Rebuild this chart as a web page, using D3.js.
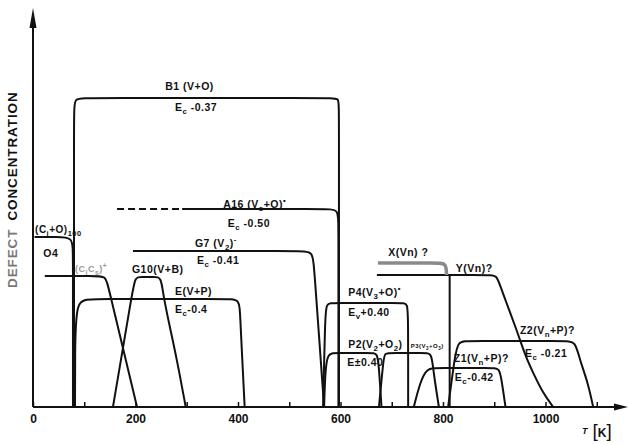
<!DOCTYPE html>
<html>
<head>
<meta charset="utf-8">
<title>Defect concentration</title>
<script src="https://cdn.jsdelivr.net/npm/d3@7"></script>
<style>
body { margin:0; background:#fff; }
svg text { font-family:"Liberation Sans", Arial, sans-serif; font-weight:bold; fill:#111; }
.curve { fill:none; stroke:#111; stroke-width:2; stroke-linejoin:round; }
</style>
</head>
<body>
<script>
// annealing curves, [T (K), relative concentration]
var b1 = [[80,0],[80,74],[80,77.25],[105,77.25],[581,77.25],[597,77.25],[597,75],[597,0]];
var a16Dash = [[164,49.5],[291,49.5]];
var a16 = [[291,49.5],[575,49.5],[596,49.5],[596,45],[596,0]];
var g7 = [[195,39],[525,39],[546,39],[549,34],[568,0]];
var o4 = [[3,42.5],[47,42.5],[78,42.5],[78,38.5],[78,0]];
var cics = [[23,32.75],[122,32.75],[142,32.75],[147,30],[203,0]];
var g10 = [[156,0],[193,28],[199,32.5],[210,32.5],[238,32.5],[250,32.5],[254,28],[267,20],[281,11.75],[298,0]];
var eVP = [[82,0],[82,14],[84,27],[110,27],[380,27],[403,27],[404,23],[413,0]];
var p4 = [[566,0],[570,22],[572,26],[585,26],[720,26],[731,26],[732,22],[732,0]];
var p2 = [[568,0],[570,8],[574,13.5],[590,13.5],[660,13.5],[672,13.5],[675,10],[680,0]];
var p3 = [[675,0],[684,12],[686,13.5],[700,13.5],[765,13.5],[778,13.5],[781,9],[792,0]];
var z1 = [[743,0],[755,6],[768,9.75],[790,9.75],[895,9.75],[910,9.75],[914,7],[922,0]];
var z2 = [[810,0],[823,12.5],[829,16.5],[850,16.5],[1040,16.5],[1058,16.5],[1067,11.75],[1083,6],[1093,0]];
var yVn = [[671,33],[890,33],[905,33],[912,30],[944,19.25],[960,13],[976,8.5],[995,3.5],[1015,0]];
var xTop = [[673,36],[790,36],[806,36],[807,33]];
var xDrop = [[813,33],[813,0]];

var tickVals = [0,100,200,300,400,500,600,700,800,900,1000,1100];
var tickLabels = [0,200,400,600,800,1000];

// labels: text (_{..} subscript, ^{..} superscript), T, level, size, colour
var labels = [
  ["B1 (V+O)", 258, 79.25, 10.5],
  ["E_{c} -0.37", 277, 74, 10.5],
  ["A16 (V_{s}+O)^{•}", 371, 49.75, 10.5],
  ["E_{c} -0.50", 380, 45, 10.5],
  ["G7 (V_{2})^{-}", 316, 40, 10.5],
  ["E_{c} -0.41", 320, 35.75, 10.5],
  ["G10(V+B)", 193, 33.5, 10.5],
  ["E(V+P)", 277, 28, 10.5],
  ["E_{c}-0.4", 277, 23.5, 10.5],
  ["O4", 20, 37.5, 10.5],
  ["(C_{i}+O)_{100}", 4, 43.5, 10],
  ["(C_{i}C_{s})^{+}", 82, 33.75, 9, "#999"],
  ["X(Vn) ?", 693, 37.75, 10.5],
  ["Y(Vn)?", 825, 33.75, 10.5],
  ["P4(V_{3}+O)^{•}", 615, 27.75, 10.5],
  ["E_{v}+0.40", 615, 22.75, 10.5],
  ["P2(V_{2}+O_{2})", 615, 14.75, 10.5],
  ["E±0.40", 613, 10.25, 10.5],
  ["P3(V_{3}+O_{3})", 737, 14.75, 6],
  ["Z1(V_{n}+P)?", 821, 11.25, 10.5],
  ["E_{c}-0.42", 823, 6.5, 10.5],
  ["Z2(V_{n}+P)?", 950, 18.25, 10.5],
  ["E_{c} -0.21", 960, 12.5, 10.5]
];

var W = 628, H = 444;
var svg = d3.select("body").append("svg").attr("width", W).attr("height", H);

var x = d3.scaleLinear().domain([0, 1160]).range([33, 627.5]);
var y = d3.scaleLinear().domain([0, 100]).range([407, 7]);

var line = d3.line().x(function(d){ return x(d[0]); }).y(function(d){ return y(d[1]); }).curve(d3.curveBasis);

// axes with arrows
svg.append("line").attr("x1", x(0)).attr("y1", y(0)).attr("x2", x(0)).attr("y2", 20)
  .attr("stroke", "#111").attr("stroke-width", 2);
svg.append("path").attr("d", "M" + x(0) + ",8 L" + (x(0)-3.5) + ",28 L" + (x(0)+3.5) + ",28 Z").attr("fill", "#111");
svg.append("line").attr("x1", x(0)).attr("y1", y(0)).attr("x2", 618).attr("y2", y(0))
  .attr("stroke", "#111").attr("stroke-width", 2);
svg.append("path").attr("d", "M628," + y(0) + " L614," + (y(0)-3.5) + " L614," + (y(0)+3.5) + " Z").attr("fill", "#111");

var ax = svg.append("g").attr("transform", "translate(0," + y(0) + ")")
  .call(d3.axisBottom(x).tickValues(tickVals).tickSizeInner(-5).tickSizeOuter(0).tickPadding(7.5)
    .tickFormat(function(d){ return tickLabels.indexOf(d) >= 0 ? d : ""; }));
ax.select(".domain").remove();
ax.selectAll(".tick line").attr("stroke", "#111").attr("stroke-width", 1.5);
ax.selectAll(".tick text").filter(function(){ return this.textContent === ""; }).remove();
ax.selectAll(".tick text").style("font-size", "12px").style("font-family", "Liberation Sans, Arial, sans-serif")
  .style("font-weight", "bold").attr("fill", "#111");

// curves
[b1, a16, g7, o4, cics, g10, eVP, p4, p2, p3, z1, z2, yVn, xDrop].forEach(function(c){
  svg.append("path").attr("class", "curve").attr("d", line(c));
});
svg.append("path").attr("class", "curve").attr("d", line(a16Dash)).attr("stroke-dasharray", "7,4");
svg.append("path").attr("d", line(xTop)).attr("fill", "none").attr("stroke", "#8a8a8a").attr("stroke-width", 3.5);

// labels
function addLabel(l) {
  var size = l[3];
  var t = svg.append("text").attr("x", x(l[1])).attr("y", y(l[2])).style("font-size", size + "px")
    .style("letter-spacing", "0.5px").style("fill", l[4] || "#111");
  var parts = l[0].split(/(_\{[^}]*\}|\^\{[^}]*\})/);
  var back = 0;
  parts.forEach(function(p){
    if (!p) return;
    var s;
    if (p[0] === "_") {
      s = t.append("tspan").attr("dy", (back + size*0.3).toFixed(2)).style("font-size", (size*0.75) + "px").text(p.slice(2, -1));
      back = -size*0.3;
    } else if (p[0] === "^") {
      s = t.append("tspan").attr("dy", (back - size*0.45).toFixed(2)).style("font-size", (size*0.75) + "px").text(p.slice(2, -1));
      back = size*0.45;
    } else {
      s = t.append("tspan").text(p);
      if (back) s.attr("dy", back.toFixed(2));
      back = 0;
    }
  });
}
labels.forEach(addLabel);

// axis titles
var yt = svg.append("text").attr("transform", "translate(17,288) rotate(-90)")
  .style("font-size", "13.5px").style("letter-spacing", "0.9px");
yt.append("tspan").style("fill", "#777").text("DEFECT");
yt.append("tspan").attr("dx", "8").text("CONCENTRATION");

var tl = svg.append("text").attr("x", 582).attr("y", 434);
tl.append("tspan").text("T").style("font-size", "9px").style("font-style", "italic");
tl.append("tspan").attr("dx", "5").attr("dy", "3").text("[").style("font-size", "19px").style("font-weight", "normal");
tl.append("tspan").text("K").style("font-size", "12px");
tl.append("tspan").text("]").style("font-size", "19px").style("font-weight", "normal");
</script>
</body>
</html>
